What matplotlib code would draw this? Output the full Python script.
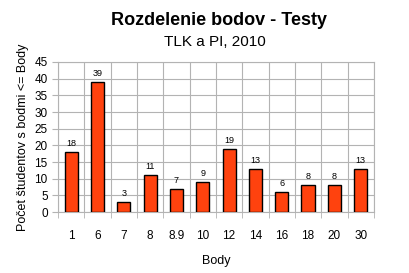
import matplotlib
matplotlib.use("Agg")
import matplotlib.pyplot as plt
import numpy as np

categories = ["1", "6", "7", "8", "8.9", "10", "12", "14", "16", "18", "20", "30"]
counts = [18, 39, 3, 11, 7, 9, 19, 13, 6, 8, 8, 13]

plt.rcParams["font.family"] = ["Liberation Sans", "DejaVu Sans"]

fig = plt.figure(figsize=(4.09, 2.73), dpi=100)
ax = fig.add_axes([0.142, 0.223, 0.772, 0.55])

x = np.arange(len(categories))
ax.bar(x, counts, width=0.5, color="#ff420e", edgecolor="black", linewidth=1.0, zorder=3)
for xi, v in zip(x, counts):
    ax.text(xi, v + 1.2, str(v), ha="center", va="bottom", fontsize=6.5)

ax.set_xlim(-0.5, len(categories) - 0.5)
ax.set_ylim(0, 45)
ax.set_yticks(range(0, 46, 5))
ax.set_xticks(x)
ax.set_xticklabels(categories, fontsize=8.5)
ax.tick_params(axis="y", labelsize=8.5, length=4, color="#b3b3b3")
ax.tick_params(axis="x", length=0, pad=13)
ax.set_xticks(np.arange(-0.5, len(categories), 1), minor=True)
ax.tick_params(axis="x", which="minor", length=4, color="#b3b3b3")

ax.grid(True, which="major", axis="y", color="#b3b3b3", linewidth=0.8, zorder=0)
ax.grid(True, which="minor", axis="x", color="#b3b3b3", linewidth=0.8, zorder=0)
for s in ax.spines.values():
    s.set_color("#b3b3b3")

ax.set_xlabel("Body", fontsize=9, labelpad=9)
ax.set_ylabel("Počet študentov s bodmi <= Body", fontsize=9, labelpad=4)

fig.text(0.535, 0.925, "Rozdelenie bodov - Testy", ha="center", va="center",
         fontsize=13, fontweight="bold")
fig.text(0.525, 0.845, "TLK a PI, 2010", ha="center", va="center", fontsize=11)

fig.savefig("out.png", dpi=100)
